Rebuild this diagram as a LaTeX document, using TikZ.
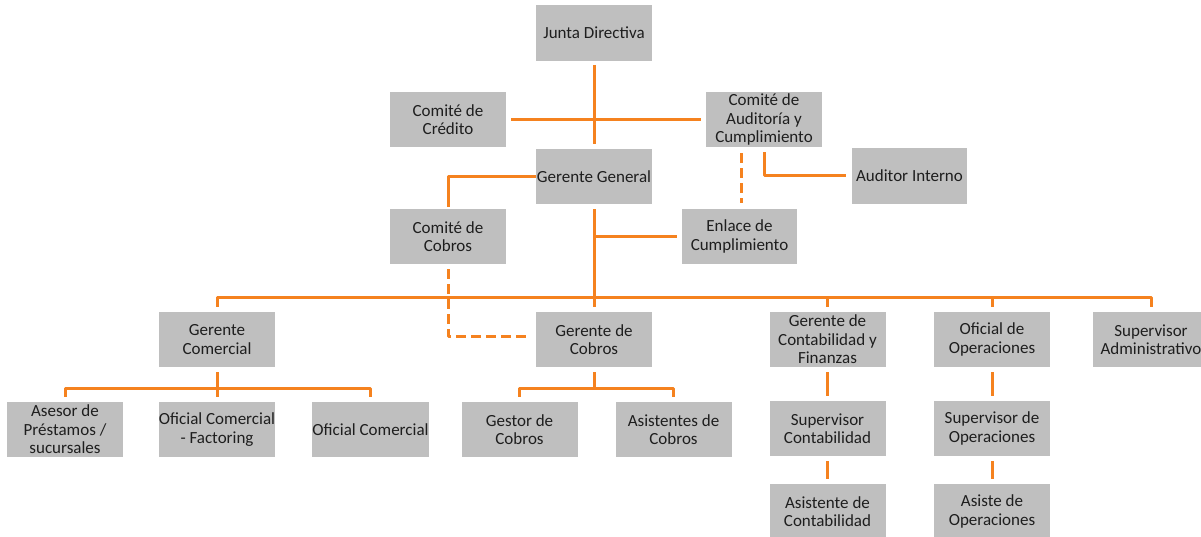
\documentclass[tikz,border=0pt]{standalone}
\usepackage{fontspec}
\setmainfont{Carlito}
\definecolor{boxgray}{HTML}{BFBFBF}
\definecolor{orgc}{HTML}{F5821F}
\definecolor{textc}{HTML}{1E1E1E}
\begin{document}
\begin{tikzpicture}[x=1pt,y=-1pt,
  box/.style={fill=boxgray, minimum width=116pt, minimum height=55.5pt, inner sep=0pt, align=center, font=\fontsize{17}{18.5}\selectfont, text=textc},
  conn/.style={draw=orgc, line width=3pt, line join=round},
  dconn/.style={conn, dash pattern=on 10pt off 5pt}]
\clip (0,0) rectangle (1201,537);
\fill[white] (0,0) rectangle (1201,537);
% nodes
\node[box] (jd) at (594,33) {Junta Directiva};
\node[box] (cc) at (448,119.5) {Comité de\\Crédito};
\node[box] (ca) at (764,119.5) {Comité de\\Auditoría y\\Cumplimiento};
\node[box] (gg) at (594,176.5) {Gerente General};
\node[box, minimum width=115pt] (ai) at (909.5,176) {Auditor Interno};
\node[box] (ccob) at (448,236.5) {Comité de\\Cobros};
\node[box, minimum width=115pt] (enl) at (739.5,236.5) {Enlace de\\Cumplimiento};
\node[box] (gc) at (217,339.5) {Gerente\\Comercial};
\node[box] (gcob) at (594,339.5) {Gerente de\\Cobros};
\node[box] (gcf) at (827.5,339.5) {Gerente de\\Contabilidad y\\Finanzas};
\node[box] (oo) at (992,339.5) {Oficial de\\Operaciones};
\node[box] (sa) at (1151,339.5) {Supervisor\\Administrativo};
\node[box] (ase) at (65,429.5) {Asesor de\\Préstamos /\\sucursales};
\node[box] (ocf) at (217,429.5) {Oficial Comercial\\- Factoring};
\node[box] (oc) at (370.5,429.5) {Oficial Comercial};
\node[box] (ges) at (519.5,429.5) {Gestor de\\Cobros};
\node[box] (asc) at (673.5,429.5) {Asistentes de\\Cobros};
\node[box] (sc) at (827.5,428.5) {Supervisor\\Contabilidad};
\node[box] (so) at (992,428.5) {Supervisor de\\Operaciones};
\node[box] (acont) at (827.5,511.5) {Asistente de\\Contabilidad};
\node[box] (aop) at (992,511.5) {Asiste de\\Operaciones};
% helper coordinates
\coordinate (bus) at (0,297);
\coordinate (busA) at (0,388);
% connectors
\draw[conn, shorten <=4pt, shorten >=5pt] (jd) -- (gg);
\draw[conn, shorten <=5pt, shorten >=5pt] (cc) -- (ca);
\draw[conn, shorten >=2pt] (gg.west) -| (ccob.north);
\draw[dconn, shorten <=6pt, shorten >=6pt] ([xshift=2pt]enl.north |- ca.south) -- ([xshift=2pt]enl.north);
\draw[conn, shorten <=5pt, shorten >=6pt] (ca.south) |- (ai.west);
\draw[conn, shorten <=5pt, shorten >=5pt] (gg) -- (gcob);
\draw[conn, shorten >=5pt] (gg.south |- enl.west) -- (enl.west);
\draw[conn] ([yshift=5pt]gc.north) -- (gc.north |- bus) -- (sa.north |- bus) -- ([yshift=5pt]sa.north);
\draw[conn] (gcf.north |- bus) -- ([yshift=5pt]gcf.north);
\draw[conn] (oo.north |- bus) -- ([yshift=5pt]oo.north);
\draw[dconn, shorten <=5pt, shorten >=6pt] (ccob.south) |- ([yshift=3.5pt]gcob.west);
\draw[conn, shorten <=5pt, shorten >=5pt] (gc) -- (ocf);
\draw[conn] ([yshift=5pt]ase.north) -- (ase.north |- busA) -- (oc.north |- busA) -- ([yshift=5pt]oc.north);
\draw[conn, shorten <=5pt] (gcob.south) -- (gcob.south |- busA);
\draw[conn] ([yshift=5pt]ges.north) -- (ges.north |- busA) -- (asc.north |- busA) -- ([yshift=5pt]asc.north);
\draw[conn, shorten <=5pt, shorten >=5pt] (gcf) -- (sc);
\draw[conn, shorten <=5pt, shorten >=5pt] (sc) -- (acont);
\draw[conn, shorten <=5pt, shorten >=5pt] (oo) -- (so);
\draw[conn, shorten <=5pt, shorten >=5pt] (so) -- (aop);
\end{tikzpicture}
\end{document}
